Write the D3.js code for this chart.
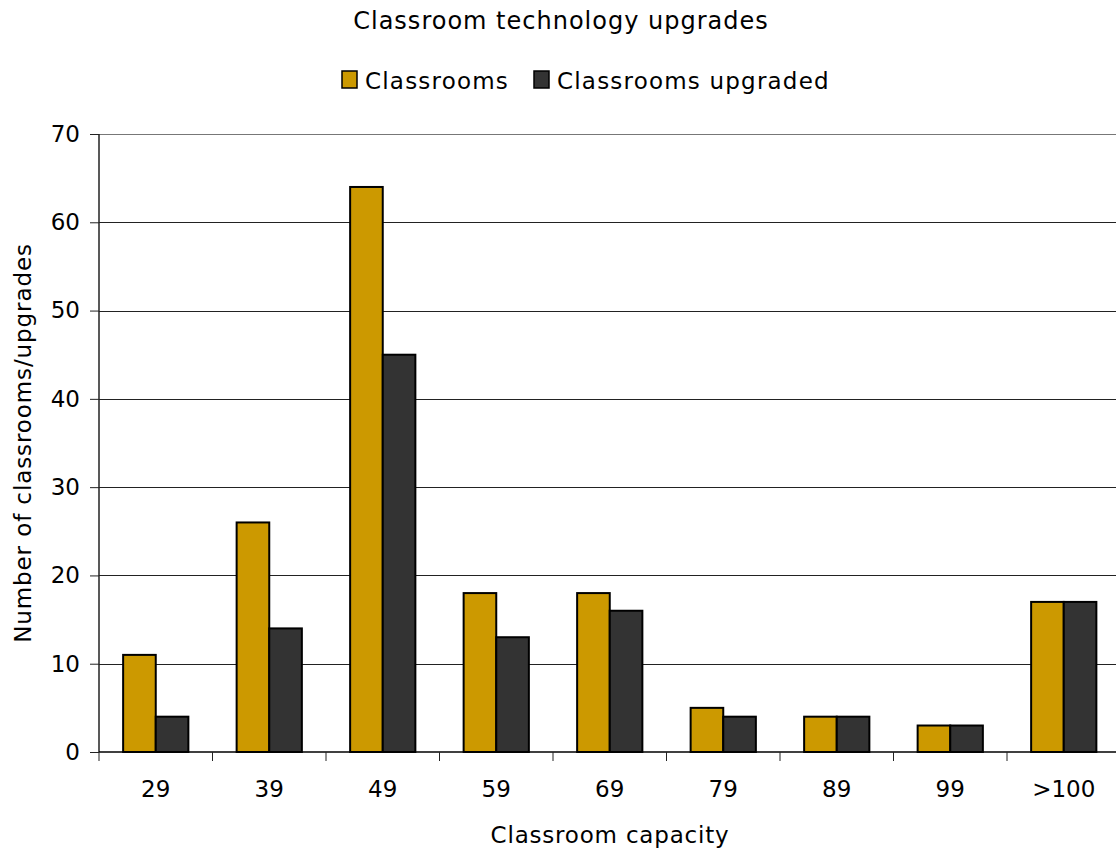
<!DOCTYPE html>
<html><head><meta charset="utf-8">
<script src="https://cdn.jsdelivr.net/npm/d3@7"></script>
<style>body{margin:0;background:#fff}svg{display:block;font-family:"DejaVu Sans",Verdana,sans-serif}</style>
</head><body>
<script>
const categories = ["29","39","49","59","69","79","89","99",">100"];
const classrooms = [11,26,64,18,18,5,4,3,17];
const upgraded = [4,14,45,13,16,4,4,3,17];
const seriesNames = ["Classrooms","Classrooms upgraded"];
const colors = ["#CC9900","#333333"];
const yTicks = [0,10,20,30,40,50,60,70];

const W=1116,H=850;
const m={left:99,top:134,right:1120.5,bottom:752};
const svg=d3.select("body").append("svg").attr("width",W).attr("height",H);

const x=d3.scaleBand().domain(categories).range([m.left,m.right]).paddingInner(0).paddingOuter(0);
const inner=d3.scaleBand().domain(seriesNames).range([0,x.bandwidth()]).paddingOuter(0.74).paddingInner(0);
const y=d3.scaleLinear().domain([0,70]).range([m.bottom,m.top]);

// gridlines
svg.append("g").selectAll("line").data(yTicks.filter(d=>d>0)).join("line")
 .attr("x1",m.left).attr("x2",m.right).attr("y1",d=>Math.round(y(d))+0.5).attr("y2",d=>Math.round(y(d))+0.5)
 .attr("stroke",d=>d===70?"#777":"#222").attr("stroke-width",1);

// bars
const data=categories.map((c,i)=>({c,vals:[classrooms[i],upgraded[i]]}));
const g=svg.append("g");
data.forEach(d=>{
  d.vals.forEach((v,j)=>{
    g.append("rect").attr("x",x(d.c)+inner(seriesNames[j])).attr("width",inner.bandwidth())
     .attr("y",y(v)).attr("height",y(0)-y(v)).attr("fill",colors[j]).attr("stroke","#000").attr("stroke-width",2);
  });
});

// y axis
const ya=svg.append("g").attr("transform",`translate(${m.left},0)`)
 .call(d3.axisLeft(y).tickValues(yTicks).tickSize(9).tickPadding(10));
ya.select(".domain").attr("stroke","#222").attr("stroke-width",1.5).attr("d",`M0,${m.top}V${m.bottom}`);
ya.selectAll(".tick line").attr("stroke","#222");
ya.selectAll("text").attr("font-size",23).attr("fill","#000").attr("font-family","DejaVu Sans, Verdana, sans-serif");

// x axis
const xa=svg.append("g").attr("transform",`translate(0,${m.bottom})`)
 .call(d3.axisBottom(x).tickSize(0).tickPadding(29));
xa.select(".domain").attr("stroke","#000").attr("stroke-width",1.5).attr("d",`M${m.left},0H${m.right}`);
xa.selectAll("text").attr("font-size",23).attr("fill","#000").attr("font-family","DejaVu Sans, Verdana, sans-serif");
const bounds=d3.range(categories.length+1).map(i=>m.left+i*x.step());
svg.append("g").selectAll("line").data(bounds).join("line")
 .attr("x1",d=>d).attr("x2",d=>d).attr("y1",m.bottom).attr("y2",m.bottom+9).attr("stroke","#222");

// titles
svg.append("text").attr("x",561).attr("y",29).attr("text-anchor","middle").attr("font-size",24).attr("letter-spacing",1).text("Classroom technology upgrades");
svg.append("text").attr("x",610).attr("y",843).attr("text-anchor","middle").attr("font-size",23).attr("letter-spacing",0.8).text("Classroom capacity");
svg.append("text").attr("transform",`translate(31,443) rotate(-90)`).attr("text-anchor","middle").attr("font-size",23).attr("letter-spacing",0.9).text("Number of classrooms/upgrades");

// legend
const legX=[342,534];
seriesNames.forEach((s,j)=>{
  svg.append("rect").attr("x",legX[j]).attr("y",71).attr("width",15).attr("height",17).attr("fill",colors[j]).attr("stroke","#000").attr("stroke-width",1.5);
  svg.append("text").attr("x",legX[j]+23).attr("y",89).attr("font-size",23).attr("letter-spacing",1.2).text(s);
});
</script>
</body></html>
